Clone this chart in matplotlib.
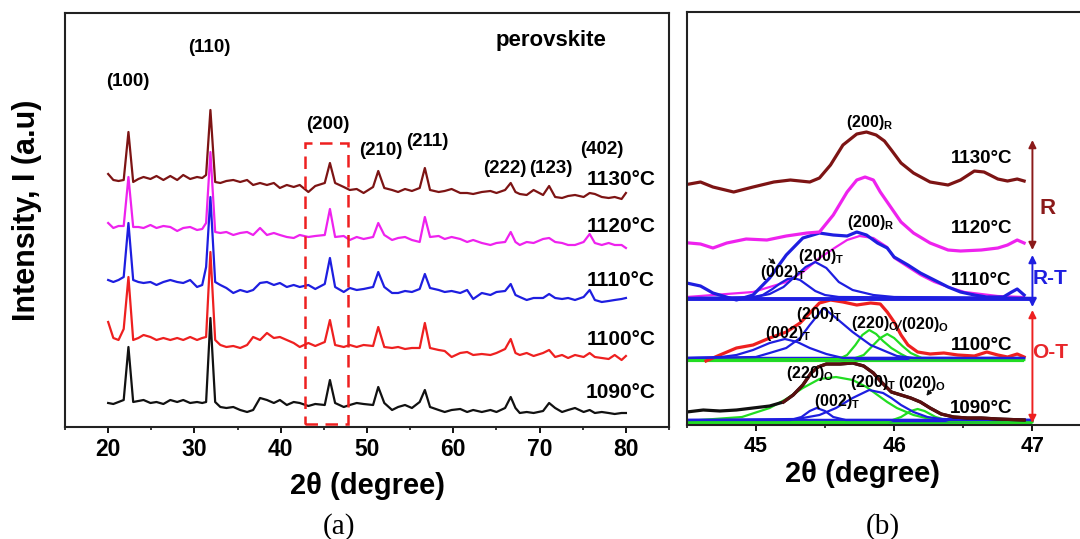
"""XRD of perovskite vs sintering temperature: (a) full scans, (b) (200) peak deconvolution."""
import matplotlib

matplotlib.use("Agg")
import matplotlib.pyplot as plt
from matplotlib.patches import Rectangle
from matplotlib.ticker import MultipleLocator

plt.rcParams["font.family"] = ["Liberation Sans", "DejaVu Sans"]
plt.rcParams["font.weight"] = "bold"
plt.rcParams["mathtext.fontset"] = "custom"
plt.rcParams["mathtext.rm"] = "Liberation Sans"
plt.rcParams["mathtext.bf"] = "Liberation Sans:bold"

# ---------------- panel (a): stacked patterns (offset already in the values)
two_theta = [20.0, 20.6, 21.2, 21.8, 22.35, 22.9, 23.5, 24.1, 24.9, 25.6,
             26.4, 27.2, 28.0, 28.7, 29.5, 30.3, 30.9, 31.35, 31.85, 32.4,
             33.0, 33.7, 34.5, 35.3, 36.1, 36.8, 37.6, 38.4, 39.2, 39.9,
             40.7, 41.5, 42.2, 43.2, 44.0, 45.1, 45.7, 46.3, 47.3, 48.0,
             48.8, 49.6, 50.7, 51.3, 52.0, 52.9, 53.6, 54.4, 55.2, 56.1,
             56.7, 57.3, 58.3, 59.0, 59.8, 60.8, 61.6, 62.3, 63.3, 64.3,
             65.0, 66.0, 66.65, 67.2, 67.7, 68.5, 69.3, 70.4, 71.1, 71.8,
             72.6, 73.3, 74.1, 75.1, 75.8, 76.4, 77.2, 78.0, 78.7, 79.5,
             80.0]
i_1130 = [251, 245, 244, 245, 293, 243, 246, 248, 246, 249,
          245, 249, 245, 250, 246, 248, 247, 250, 315, 243,
          242, 244, 245, 243, 245, 240, 242, 240, 242, 237,
          240, 238, 240, 233, 239, 242, 262, 242, 238, 235,
          236, 232, 238, 254, 237, 235, 233, 236, 234, 237,
          257, 235, 233, 234, 236, 232, 232, 231, 233, 234,
          232, 235, 242, 233, 231, 230, 235, 230, 239, 228,
          227, 229, 230, 228, 232, 231, 228, 227, 228, 226,
          232]
i_1120 = [202, 197, 199, 199, 248, 198, 198, 197, 200, 197,
          199, 198, 194, 197, 198, 195, 196, 202, 273, 193,
          192, 193, 190, 192, 193, 190, 197, 190, 192, 190,
          188, 187, 190, 188, 189, 190, 216, 188, 189, 185,
          188, 186, 188, 202, 190, 185, 187, 188, 185, 183,
          208, 188, 189, 186, 188, 186, 183, 185, 182, 180,
          182, 183, 193, 183, 180, 183, 182, 186, 187, 183,
          182, 180, 180, 183, 191, 182, 180, 182, 180, 180,
          177]
i_1110 = [145, 143, 145, 148, 202, 145, 143, 142, 143, 140,
          143, 145, 143, 142, 145, 138, 140, 158, 228, 143,
          140, 137, 132, 135, 133, 135, 142, 143, 140, 142,
          138, 140, 138, 140, 136, 141, 167, 138, 133, 137,
          135, 136, 138, 153, 138, 132, 132, 134, 133, 136,
          151, 137, 135, 133, 134, 132, 135, 126, 132, 130,
          133, 134, 141, 130, 128, 125, 127, 127, 131, 127,
          126, 127, 125, 128, 135, 125, 123, 124, 125, 126,
          127]
i_1100 = [103, 87, 85, 96, 148, 85, 87, 90, 88, 85,
          87, 85, 87, 85, 88, 85, 87, 88, 173, 85,
          80, 78, 79, 77, 80, 88, 85, 92, 87, 88,
          85, 82, 78, 82, 79, 83, 105, 80, 78, 80,
          78, 80, 79, 98, 78, 77, 78, 76, 77, 77,
          102, 77, 75, 74, 68, 72, 73, 70, 71, 70,
          72, 76, 86, 72, 70, 72, 69, 72, 75, 68,
          70, 67, 70, 68, 72, 68, 67, 66, 70, 65,
          69]
i_1090 = [22, 21, 23, 25, 78, 23, 24, 25, 22, 23,
          21, 25, 23, 25, 22, 23, 22, 23, 107, 23,
          18, 17, 18, 15, 13, 15, 27, 25, 22, 25,
          20, 23, 22, 19, 21, 20, 45, 22, 18, 20,
          22, 21, 20, 38, 22, 15, 18, 20, 17, 23,
          35, 18, 15, 13, 15, 16, 13, 15, 13, 15,
          13, 17, 28, 17, 12, 13, 12, 14, 22, 17,
          13, 15, 17, 13, 15, 12, 13, 12, 11, 12,
          12]

temps = ["1130", "1120", "1110", "1100", "1090"]
hkl_a = ["(100)", "(110)", "(200)", "(210)", "(211)", "(222)", "(123)", "(402)"]

# ---------------- panel (b): zoom on the (200) reflection
tt_1130 = [44.52, 44.60, 44.69, 44.84, 44.98, 45.13, 45.25, 45.39, 45.46, 45.54,
           45.63, 45.73, 45.80, 45.87, 45.93, 45.98, 46.05, 46.14, 46.26, 46.39,
           46.48, 46.58, 46.65, 46.75, 46.82, 46.89, 46.94]
y_1130 = [241, 243, 238, 233, 238, 243, 245, 243, 247, 260,
          280, 291, 293, 290, 284, 275, 262, 252, 243, 240,
          245, 254, 253, 246, 244, 246, 244]

tt_1120 = [44.52, 44.60, 44.69, 44.79, 44.93, 45.08, 45.22, 45.37, 45.46, 45.56,
           45.66, 45.73, 45.79, 45.85, 45.90, 45.98, 46.05, 46.14, 46.26, 46.39,
           46.48, 46.63, 46.75, 46.82, 46.89, 46.94]
y_1120 = [182, 181, 177, 182, 186, 185, 189, 192, 193, 210,
          233, 245, 248, 245, 233, 217, 203, 192, 182, 175,
          174, 175, 177, 180, 185, 182]

tt_1110 = [44.50, 44.60, 44.69, 44.86, 44.98, 45.10, 45.22, 45.34, 45.46, 45.56,
           45.66, 45.73, 45.80, 45.88, 45.95, 46.00, 46.10, 46.19, 46.29, 46.39,
           46.48, 46.58, 46.67, 46.79, 46.85, 46.89, 46.94]
y_1110 = [142, 139, 132, 125, 130, 147, 170, 187, 192, 190,
          189, 193, 190, 182, 177, 168, 160, 152, 145, 138,
          133, 130, 128, 128, 133, 136, 130]
tt_1110_R = [44.50, 44.98, 45.22, 45.34, 45.46, 45.58, 45.66, 45.75, 45.85, 45.95,
             46.00, 46.10, 46.19, 46.29, 46.39, 46.51, 46.63, 46.75, 46.94]
y_1110_R = [128, 133, 143, 153, 167, 178, 185, 189, 187, 178,
            167, 158, 150, 143, 138, 133, 131, 129, 128]
tt_1110_T002 = [44.50, 44.95, 45.05, 45.12, 45.18, 45.23, 45.27, 45.32, 45.37, 45.43,
                45.50, 45.60, 47.02]
y_1110_T002 = [127, 127, 130, 136, 142, 146, 147, 145, 140, 134, 130, 128, 127]
tt_1110_T200 = [44.50, 45.00, 45.10, 45.20, 45.28, 45.36, 45.43, 45.51, 45.60, 45.70,
                45.85, 46.00, 47.02]
y_1110_T200 = [127, 128, 131, 138, 148, 158, 163, 157, 143, 135, 130, 128, 127]

tt_1100 = [44.64, 44.74, 44.86, 44.98, 45.10, 45.22, 45.32, 45.39, 45.46, 45.54,
           45.63, 45.73, 45.83, 45.90, 45.95, 46.00, 46.05, 46.10, 46.17, 46.26,
           46.36, 46.46, 46.58, 46.67, 46.75, 46.82, 46.89, 46.94]
y_1100 = [64, 70, 77, 80, 87, 93, 102, 112, 122, 125,
          123, 120, 122, 121, 113, 103, 90, 80, 73, 71,
          72, 70, 69, 73, 70, 68, 71, 68]
tt_1100_T002 = [44.50, 44.75, 44.86, 44.98, 45.10, 45.21, 45.30, 45.39, 45.51, 45.63, 46.94]
y_1100_T002 = [67, 68, 70, 75, 82, 86, 83, 77, 71, 67, 67]
tt_1100_T200 = [44.50, 45.00, 45.10, 45.22, 45.32, 45.39, 45.49, 45.58, 45.70, 45.83,
                45.95, 46.02, 46.14, 46.94]
y_1100_T200 = [67, 68, 72, 77, 87, 100, 117, 107, 93, 80, 73, 69, 67, 67]
tt_1100_O220 = [44.50, 45.60, 45.66, 45.72, 45.77, 45.82, 45.87, 45.92, 45.98, 46.05,
                46.12, 46.94]
y_1100_O220 = [65, 66, 70, 80, 90, 95, 91, 84, 77, 71, 66, 65]
tt_1100_O020 = [44.50, 45.70, 45.78, 45.85, 45.90, 45.95, 46.00, 46.06, 46.12, 46.20, 46.94]
y_1100_O020 = [65, 66, 70, 80, 87, 91, 87, 79, 72, 67, 65]

tt_1090 = [44.50, 44.62, 44.74, 44.86, 44.98, 45.10, 45.20, 45.27, 45.34, 45.40,
           45.45, 45.51, 45.61, 45.70, 45.78, 45.85, 45.90, 45.98, 46.05, 46.12,
           46.19, 46.26, 46.34, 46.43, 46.53, 46.63, 46.75, 46.94]
y_1090 = [13, 15, 14, 15, 17, 19, 23, 30, 40, 52,
          58, 61, 61, 62, 59, 52, 44, 33, 30, 27,
          23, 17, 11, 8, 7, 7, 6, 5]
tt_1090_O220 = [44.50, 44.90, 45.10, 45.22, 45.34, 45.46, 45.58, 45.70, 45.80, 45.90,
                45.95, 46.02, 46.14, 46.26, 47.00]
y_1090_O220 = [4, 8, 17, 26, 37, 46, 48, 45, 38, 28, 23, 17, 10, 6, 4]
tt_1090_T002 = [44.50, 45.25, 45.33, 45.39, 45.44, 45.50, 45.56, 45.65, 47.00]
y_1090_T002 = [5, 5, 8, 14, 17, 14, 8, 5, 5]
tt_1090_T200 = [44.50, 45.30, 45.46, 45.58, 45.70, 45.82, 45.92, 45.98, 46.05, 46.14,
                46.24, 46.34, 47.00]
y_1090_T200 = [5, 6, 10, 17, 27, 35, 32, 27, 20, 13, 8, 6, 5]
tt_1090_O020 = [44.50, 45.95, 46.05, 46.12, 46.17, 46.22, 46.30, 46.40, 47.00]
y_1090_O020 = [3, 3, 8, 14, 16, 14, 8, 4, 3]

# flat fit backgrounds of the three deconvoluted scans
base_1110 = 126
base_1100 = 67
base_1090 = 5

MAROON = "#7d1414"
MAGENTA = "#ee22ee"
BLUE = "#1e1ee0"
RED = "#ee2020"
GREEN = "#22dd22"
BLACK = "#111111"
COLORS_A = [MAROON, MAGENTA, BLUE, RED, BLACK]


def _style_axes(ax, lw=1.5, labelsize=16.5):
    for s in ax.spines.values():
        s.set_linewidth(lw)
        s.set_color("#222222")
    ax.set_yticks([])
    ax.tick_params(axis="x", which="major", direction="out", length=4, width=1.3,
                   labelsize=labelsize, pad=4)
    ax.tick_params(axis="x", which="minor", direction="out", length=2.5, width=1.1)
    for t in ax.get_xticklabels():
        t.set_fontweight("bold")


def panel_a(ax):
    series = [i_1130, i_1120, i_1110, i_1100, i_1090]
    for y, c in zip(series, COLORS_A):
        ax.plot(two_theta, y, color=c, lw=1.6, solid_joinstyle="round")

    ax.add_patch(Rectangle((42.83, 0.5), 5.02, 281.5, fill=False, ec=RED, lw=1.8,
                           ls=(0, (5, 3)), zorder=5))

    hkl_x = [22.3, 31.7, 45.5, 51.6, 57.0, 66.0, 71.3, 77.2]
    hkl_y = [343, 377, 300, 274, 283, 256, 256, 275]
    for lab, x, y in zip(hkl_a, hkl_x, hkl_y):
        ax.text(x, y, lab, ha="center", va="center", fontsize=13.5, fontweight="bold")
    ax.text(71.3, 384, "perovskite", ha="center", va="center", fontsize=16,
            fontweight="bold")
    for t, y in zip(temps, [245, 198, 144, 85, 32]):
        ax.text(79.4, y, f"{t}°C", ha="center", va="center", fontsize=15,
                fontweight="bold")

    ax.set_xlim(15, 85)
    ax.set_ylim(-2, 412)
    ax.xaxis.set_major_locator(MultipleLocator(10))
    ax.xaxis.set_minor_locator(MultipleLocator(5))
    _style_axes(ax)


def panel_b(ax):
    kw_fit = dict(lw=1.6, solid_joinstyle="round")
    kw_dat = dict(lw=2.3, solid_joinstyle="round")

    # 1090 °C: O + T components
    ax.hlines(base_1090 - 2, 44.5, 47.0, color=GREEN, lw=2.5)
    ax.hlines(base_1090, 44.5, 47.0, color=BLUE, lw=2.5)
    ax.plot(tt_1090_O220, y_1090_O220, color=GREEN, **kw_fit)
    ax.plot(tt_1090_O020, y_1090_O020, color=GREEN, **kw_fit)
    ax.plot(tt_1090_T002, y_1090_T002, color=BLUE, **kw_fit)
    ax.plot(tt_1090_T200, y_1090_T200, color=BLUE, **kw_fit)
    ax.plot(tt_1090, y_1090, color=BLACK, **kw_dat)
    ax.plot(tt_1090[6:], y_1090[6:], color="#5a0f0f", **kw_dat)

    # 1100 °C
    ax.hlines(base_1100 - 2, 44.5, 46.94, color=GREEN, lw=3)
    ax.hlines(base_1100, 44.5, 46.94, color=BLUE, lw=2.5)
    ax.plot(tt_1100_O220, y_1100_O220, color=GREEN, **kw_fit)
    ax.plot(tt_1100_O020, y_1100_O020, color=GREEN, **kw_fit)
    ax.plot(tt_1100, y_1100, color=RED, **kw_dat)
    ax.plot(tt_1100_T002, y_1100_T002, color=BLUE, **kw_fit)
    ax.plot(tt_1100_T200, y_1100_T200, color=BLUE, **kw_fit)

    # 1110 °C
    ax.hlines(base_1110, 44.5, 47.02, color=BLUE, lw=2.8)
    ax.plot(tt_1110_R, y_1110_R, color=MAGENTA, **kw_fit)
    ax.plot(tt_1110_T002, y_1110_T002, color=BLUE, **kw_fit)
    ax.plot(tt_1110_T200, y_1110_T200, color=BLUE, **kw_fit)
    ax.plot(tt_1110, y_1110, color=BLUE, **kw_dat)

    ax.plot(tt_1120, y_1120, color=MAGENTA, **kw_dat)
    ax.plot(tt_1130, y_1130, color=MAROON, **kw_dat)

    # phase ranges
    arr = dict(arrowstyle="<|-|>", lw=1.4, mutation_scale=11, shrinkA=0, shrinkB=0)
    ax.annotate("", xy=(47.0, 175), xytext=(47.0, 285),
                arrowprops=dict(color="#8b1a1a", **arr))
    ax.annotate("", xy=(47.0, 118), xytext=(47.0, 170),
                arrowprops=dict(color=BLUE, **arr))
    ax.annotate("", xy=(47.0, 2), xytext=(47.0, 115),
                arrowprops=dict(color=RED, **arr))
    ax.text(47.11, 217, "R", color="#8b1a1a", fontsize=16, ha="center", va="center")
    ax.text(47.13, 147, "R-T", color=BLUE, fontsize=15, ha="center", va="center")
    ax.text(47.13, 73, "O-T", color="#e8262a", fontsize=15, ha="center", va="center")

    for t, y in zip(temps, [267, 197, 145, 80, 17]):
        ax.text(46.63, y, f"{t}°C", ha="center", va="center", fontsize=13.5)

    lab = dict(ha="center", va="center", fontsize=11.5)
    ax.text(45.82, 303, r"(200)$_\mathbf{R}$", **lab)
    ax.text(45.83, 203, r"(200)$_\mathbf{R}$", **lab)
    ax.text(45.47, 169, r"(200)$_\mathbf{T}$", **lab)
    ax.text(45.20, 153, r"(002)$_\mathbf{T}$", **lab)
    ax.text(45.46, 111, r"(200)$_\mathbf{T}$", **lab)
    ax.text(45.23, 92, r"(002)$_\mathbf{T}$", **lab)
    ax.text(45.86, 102, r"(220)$_\mathbf{O}$", **lab)
    ax.text(46.22, 101, r"(020)$_\mathbf{O}$", **lab)
    ax.text(45.39, 52, r"(220)$_\mathbf{O}$", **lab)
    ax.text(45.59, 24, r"(002)$_\mathbf{T}$", **lab)
    ax.text(45.85, 43, r"(200)$_\mathbf{T}$", **lab)
    ax.text(46.20, 42, r"(020)$_\mathbf{O}$", **lab)

    pointer = dict(arrowstyle="-|>", lw=1.0, color=BLACK, mutation_scale=7)
    ax.annotate("", xy=(45.16, 159), xytext=(45.08, 168), arrowprops=pointer)
    ax.annotate("", xy=(46.01, 92), xytext=(46.06, 107),
                arrowprops=dict(arrowstyle="-", lw=1.0, color=BLACK))
    ax.annotate("", xy=(46.22, 27), xytext=(46.28, 37), arrowprops=pointer)

    ax.set_xlim(44.5, 47.344)
    ax.set_ylim(0, 413)
    ax.xaxis.set_major_locator(MultipleLocator(1))
    ax.xaxis.set_minor_locator(MultipleLocator(0.5))
    _style_axes(ax, labelsize=15.5)
    ax.spines["right"].set_visible(False)


def main():
    fig = plt.figure(figsize=(10.8, 5.39), dpi=100)
    ax_a = fig.add_axes([0.0602, 0.2078, 0.5593, 0.7681])
    ax_b = fig.add_axes([0.6358, 0.2115, 0.3642, 0.7662])
    panel_a(ax_a)
    panel_b(ax_b)

    fig.text(0.025, 0.61, "Intensity, I (a.u)", rotation=90, ha="center", va="center",
             fontsize=22, fontweight="bold")
    fig.text(0.3407, 0.098, "2θ (degree)", ha="center", va="center", fontsize=21,
             fontweight="bold")
    fig.text(0.799, 0.121, "2θ (degree)", ha="center", va="center", fontsize=21,
             fontweight="bold")
    fig.text(0.3139, 0.024, "(a)", ha="center", va="center", fontsize=21,
             family="Liberation Serif", fontweight="normal")
    fig.text(0.8176, 0.024, "(b)", ha="center", va="center", fontsize=21,
             family="Liberation Serif", fontweight="normal")

    fig.savefig("out.png", dpi=100)
    plt.close(fig)


if __name__ == "__main__":
    main()
